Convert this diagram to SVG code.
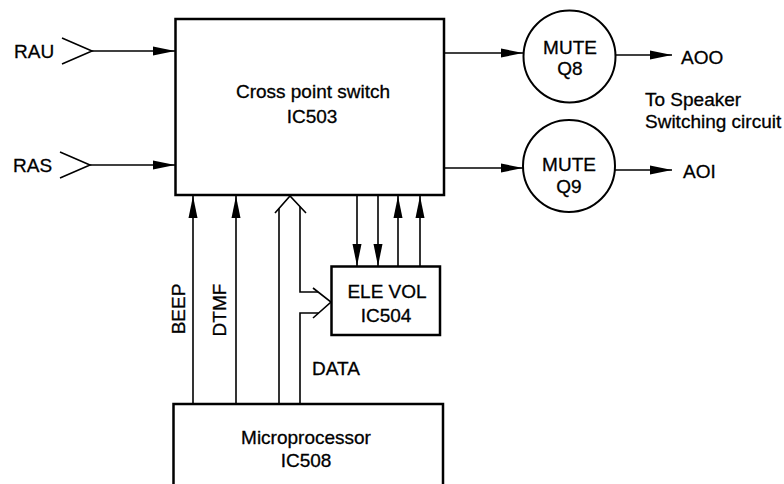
<svg xmlns="http://www.w3.org/2000/svg" width="784" height="484" viewBox="0 0 784 484">
<defs>
<marker id="ah" markerWidth="22" markerHeight="10" refX="22" refY="5" orient="auto" markerUnits="userSpaceOnUse">
<path d="M0,0.5 L22,5 L0,9.5 Z" fill="#000"/>
</marker>
<style>
text{font-family:"Liberation Sans",Arial,sans-serif;font-size:19px;fill:#000;stroke:#000;stroke-width:0.3}
.c{text-anchor:middle}
.box{fill:#fff;stroke:#000;stroke-width:2.5}
.circ{fill:#fff;stroke:#000;stroke-width:2}
.ln{fill:none;stroke:#000;stroke-width:1.6}
.arr{fill:none;stroke:#000;stroke-width:1.6;marker-end:url(#ah)}
</style>
</defs>
<rect width="784" height="484" fill="#fff"/>
<g id="connectors">
<polyline class="ln" points="62,38 92,51 62,64"/>
<line class="arr" x1="92" y1="51" x2="175" y2="51"/>
<polyline class="ln" points="60,152 90,165 60,178"/>
<line class="arr" x1="90" y1="165" x2="175" y2="165"/>
<line class="arr" x1="444" y1="53" x2="523" y2="53"/>
<line class="arr" x1="444" y1="168" x2="523" y2="168"/>
<line class="arr" x1="616" y1="55" x2="672" y2="55"/>
<line class="arr" x1="615" y1="170" x2="672" y2="170"/>
<line class="arr" x1="193" y1="404" x2="193" y2="196"/>
<line class="arr" x1="236" y1="404" x2="236" y2="196"/>
<polyline class="ln" points="275,213 290,196 306,213"/>
<line class="ln" x1="279" y1="404" x2="279" y2="208.5"/>
<polyline class="ln" points="300,206.6 300,292 318,292"/>
<polyline class="ln" points="300,404 300,313 318.6,313"/>
<polyline class="ln" points="313,288 331,302 313,318"/>
<line class="arr" x1="357" y1="195" x2="357" y2="266"/>
<line class="arr" x1="378" y1="195" x2="378" y2="266"/>
<line class="arr" x1="398" y1="266" x2="398" y2="196"/>
<line class="arr" x1="420" y1="266" x2="420" y2="196"/>
</g>
<g id="cross-point-switch">
<rect class="box" x="175.5" y="19" width="268.5" height="176"/>
<text class="c" x="313" y="98">Cross point switch</text>
<text class="c" x="312" y="123">IC503</text>
</g>
<g id="mute-q8">
<circle class="circ" cx="569.5" cy="56.5" r="46"/>
<text class="c" x="570" y="54">MUTE</text>
<text class="c" x="570" y="75">Q8</text>
</g>
<g id="mute-q9">
<circle class="circ" cx="569" cy="166" r="46"/>
<text class="c" x="569" y="171">MUTE</text>
<text class="c" x="569" y="193">Q9</text>
</g>
<g id="ele-vol">
<rect class="box" x="331.5" y="266.5" width="108.5" height="68.5"/>
<text class="c" x="387" y="298">ELE VOL</text>
<text class="c" x="386" y="322">IC504</text>
</g>
<g id="microprocessor">
<rect class="box" x="173.5" y="404" width="269.5" height="100"/>
<text class="c" x="306" y="444">Microprocessor</text>
<text class="c" x="306" y="467">IC508</text>
</g>
<g id="labels">
<text x="14" y="58">RAU</text>
<text x="13" y="172">RAS</text>
<text x="681" y="64">AOO</text>
<text x="683" y="178">AOI</text>
<text x="645" y="106">To Speaker</text>
<text x="645" y="128">Switching circuit</text>
<text class="c" transform="translate(185,309) rotate(-90)">BEEP</text>
<text class="c" transform="translate(226,310) rotate(-90)">DTMF</text>
<text x="312" y="375">DATA</text>
</g>
</svg>
